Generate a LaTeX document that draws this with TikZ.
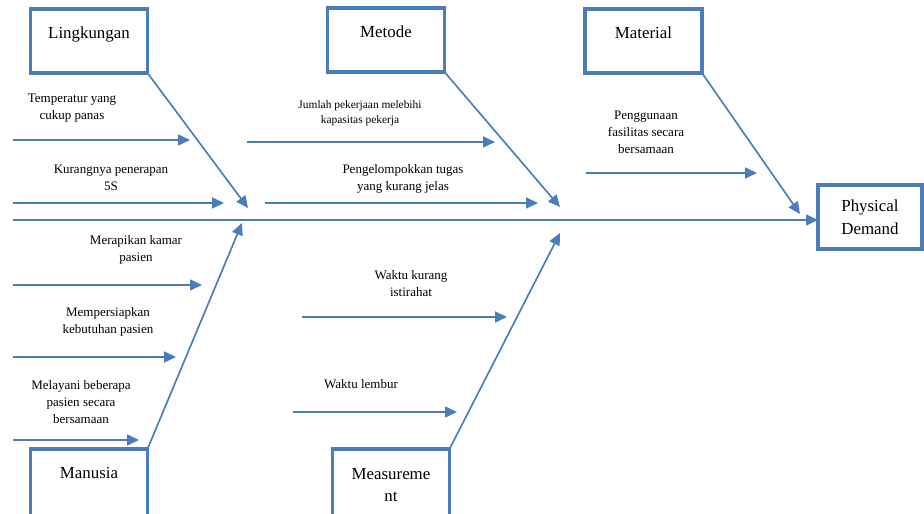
\documentclass[tikz,border=0pt]{standalone}
\usepackage{fontspec}
\setmainfont{Liberation Serif}
\usetikzlibrary{arrows.meta}
\definecolor{fishblue}{RGB}{74,126,187}
\tikzset{
	boxbase/.style={draw=fishblue, line width=1.9pt, outer sep=0pt, minimum height=1.28cm, align=center, font=\fontsize{9.6}{13}\selectfont},
	catbox/.style={boxbase, anchor=north, minimum width=2.34cm, text height=0.25cm, text depth=0.33cm},
	lowbox/.style={catbox, minimum height=1.44cm, text depth=0.49cm},
	cause/.style={fishblue, line width=0.95pt, -{Triangle[length=0.24cm,width=0.22cm]}},
	causetext/.style={align=center, font=\fontsize{7.4}{9.6}\selectfont}
}
\begin{document}
\begin{tikzpicture}
		\useasboundingbox (0,0) rectangle (18.48,10.28);
		
		\node[catbox] (lingk) at (1.78,10.1) {Lingkungan};
		\node[catbox] (metode) at (7.72,10.12) {Metode};
		\node[catbox] (material) at (12.87,10.1) {Material};
		\node[lowbox] (manusia) at (1.78,1.3) {Manusia};
		\node[boxbase, anchor=north, minimum width=2.34cm, minimum height=1.44cm] (measure) at (7.82,1.3) {Measureme\\nt};
		\node[boxbase, minimum width=2.08cm] (phys) at (17.4,5.94) {Physical\\Demand};
		
		\coordinate (spine) at (0.26,5.88);
		\draw[cause] (spine) -- (phys.west |- spine);
		
		\coordinate (lingk-tip) at (4.96,6.12);
		\coordinate (manusia-tip) at (4.84,5.82);
		\coordinate (metode-tip) at (11.2,6.14);
		\coordinate (measure-tip) at (11.2,5.62);
		\coordinate (material-tip) at (16.0,6.0);
		\draw[cause] (lingk.south east) -- (lingk-tip);
		\draw[cause] (manusia.north east) -- (manusia-tip);
		\draw[cause] (metode.south east) -- (metode-tip);
		\draw[cause] (measure.north east) -- (measure-tip);
		\draw[cause] (material.south east) -- (material-tip);
		
		\node[causetext] (temp) at (1.44,8.11) {Temperatur yang\\cukup panas};
		\node[causetext] (kurang) at (2.22,6.72) {Kurangnya penerapan\\5S};
		\node[causetext, font=\fontsize{6.5}{8.4}\selectfont] (jumlah) at (7.2,8.02) {Jumlah pekerjaan melebihi\\kapasitas pekerja};
		\node[causetext] (pengel) at (8.06,6.71) {Pengelompokkan tugas\\yang kurang jelas};
		\node[causetext] (pengg) at (12.92,7.63) {Penggunaan\\fasilitas secara\\bersamaan};
		\node[causetext] (merap) at (2.72,5.28) {Merapikan kamar\\pasien};
		\node[causetext] (memp) at (2.16,3.84) {Mempersiapkan\\kebutuhan pasien};
		\node[causetext] (melay) at (1.62,2.24) {Melayani beberapa\\pasien secara\\bersamaan};
		\node[causetext] (waktuk) at (8.22,4.61) {Waktu kurang\\istirahat};
		\node[causetext] (waktul) at (7.22,2.6) {Waktu lembur};
		
		\coordinate (temp-s) at (0.26,7.48);
		\coordinate (temp-e) at (3.8,7.48);
		\coordinate (kurang-s) at (0.26,6.22);
		\coordinate (kurang-e) at (4.48,6.22);
		\coordinate (jumlah-s) at (4.94,7.44);
		\coordinate (jumlah-e) at (9.9,7.44);
		\coordinate (pengel-s) at (5.3,6.22);
		\coordinate (pengel-e) at (10.76,6.22);
		\coordinate (pengg-s) at (11.72,6.82);
		\coordinate (pengg-e) at (15.14,6.82);
		\coordinate (merap-s) at (0.26,4.58);
		\coordinate (merap-e) at (4.04,4.58);
		\coordinate (memp-s) at (0.26,3.14);
		\coordinate (memp-e) at (3.52,3.14);
		\coordinate (melay-s) at (0.26,1.48);
		\coordinate (melay-e) at (2.78,1.48);
		\coordinate (waktuk-s) at (6.04,3.94);
		\coordinate (waktuk-e) at (10.14,3.94);
		\coordinate (waktul-s) at (5.86,2.04);
		\coordinate (waktul-e) at (9.14,2.04);
		
		\draw[cause] (temp-s) -- (temp-e);
		\draw[cause] (kurang-s) -- (kurang-e);
		\draw[cause] (jumlah-s) -- (jumlah-e);
		\draw[cause] (pengel-s) -- (pengel-e);
		\draw[cause] (pengg-s) -- (pengg-e);
		\draw[cause] (merap-s) -- (merap-e);
		\draw[cause] (memp-s) -- (memp-e);
		\draw[cause] (melay-s) -- (melay-e);
		\draw[cause] (waktuk-s) -- (waktuk-e);
		\draw[cause] (waktul-s) -- (waktul-e);
		
	\end{tikzpicture}
\end{document}
